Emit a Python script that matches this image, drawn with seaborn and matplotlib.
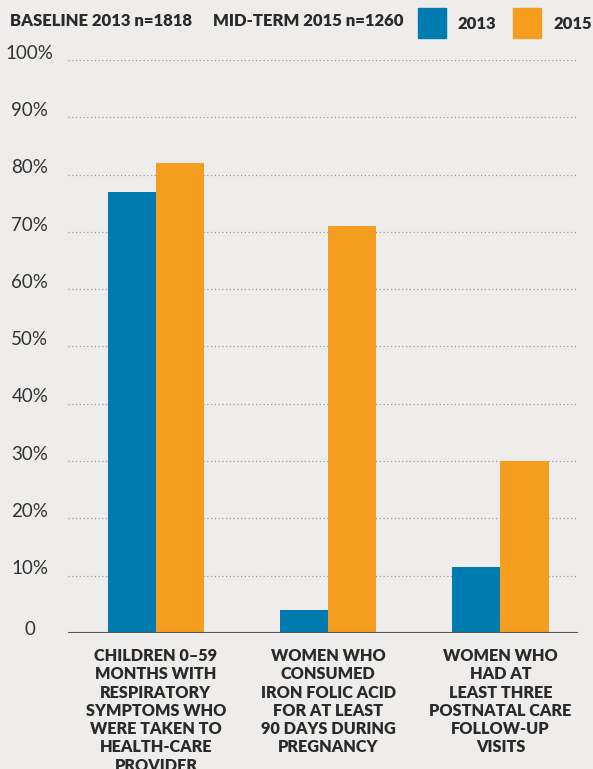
import matplotlib
matplotlib.use("Agg")
import matplotlib.pyplot as plt
import seaborn as sns
import pandas as pd
from matplotlib.patches import Rectangle

categories = [
    "CHILDREN 0\u201359\nMONTHS WITH\nRESPIRATORY\nSYMPTOMS WHO\nWERE TAKEN TO\nHEALTH-CARE\nPROVIDER",
    "WOMEN WHO\nCONSUMED\nIRON FOLIC ACID\nFOR AT LEAST\n90 DAYS DURING\nPREGNANCY",
    "WOMEN WHO\nHAD AT\nLEAST THREE\nPOSTNATAL CARE\nFOLLOW-UP\nVISITS",
]
years = ["2013", "2015"]
values_2013 = [77, 4, 11.5]
values_2015 = [82, 71, 30]
yticks = [0, 10, 20, 30, 40, 50, 60, 70, 80, 90, 100]
ytick_labels = ["0"] + [f"{v}%" for v in yticks[1:]]

bg = "#eeedeb"
colors = {"2013": "#007bb0", "2015": "#f59d1f"}
dark = "#2a2a2a"

df = pd.DataFrame({
    "category": categories * 2,
    "year": ["2013"] * 3 + ["2015"] * 3,
    "value": values_2013 + values_2015,
})

sns.set_style("white")
plt.rcParams["font.family"] = ["Lato", "DejaVu Sans"]

fig = plt.figure(figsize=(5.93, 7.69), dpi=100, facecolor=bg)
ax = fig.add_axes([0.1147, 0.1769, 0.86, 0.7451], facecolor=bg)

sns.barplot(data=df, x="category", y="value", hue="year", palette=colors,
            width=0.56, saturation=1, linewidth=0, ax=ax, legend=False)

ax.set_ylim(0, 100)
ax.set_xlim(-0.51, 2.45)
ax.set_xlabel("")
ax.set_ylabel("")

# y labels sit a little above their gridlines
ax.set_yticks(yticks)
ax.set_yticklabels([])
ax.tick_params(axis="y", length=0)
ytr = ax.get_yaxis_transform()
for y, lab in zip(yticks, ytick_labels):
    ax.text(-0.075, y + (0.6 if y == 0 else 1.2), lab, transform=ytr, ha="center", va="center",
            fontsize=13.5, color="#333333")

ax.tick_params(axis="x", length=0, pad=11)
ax.set_xticks(range(3))
ax.set_xticklabels(categories, fontsize=11.7, fontweight="heavy", color=dark,
                   linespacing=1.17, ha="center", va="top")

for y in yticks[1:]:
    ax.axhline(y, color="#9a9a9a", linestyle=(0, (1, 2)), linewidth=0.9, zorder=0)
ax.axhline(0, color="#555555", linewidth=1.5, zorder=3)
for s in ax.spines.values():
    s.set_visible(False)

fig.text(0.017, 0.973, "BASELINE 2013 n=1818", fontsize=12, fontweight="heavy",
         color=dark, va="center")
fig.text(213 / 593, 0.973, "MID-TERM 2015 n=1260", fontsize=12, fontweight="heavy",
         color=dark, va="center")

# legend squares
for x0, yr in [(418, "2013"), (513, "2015")]:
    fig.patches.append(Rectangle((x0 / 593, 1 - 38 / 769), 28 / 593, 30 / 769,
                                 transform=fig.transFigure, color=colors[yr]))
    fig.text((x0 + 40) / 593, 1 - 24 / 769, yr, fontsize=12, fontweight="heavy",
             color=dark, va="center")

fig.savefig("out.png", dpi=100, facecolor=bg)
